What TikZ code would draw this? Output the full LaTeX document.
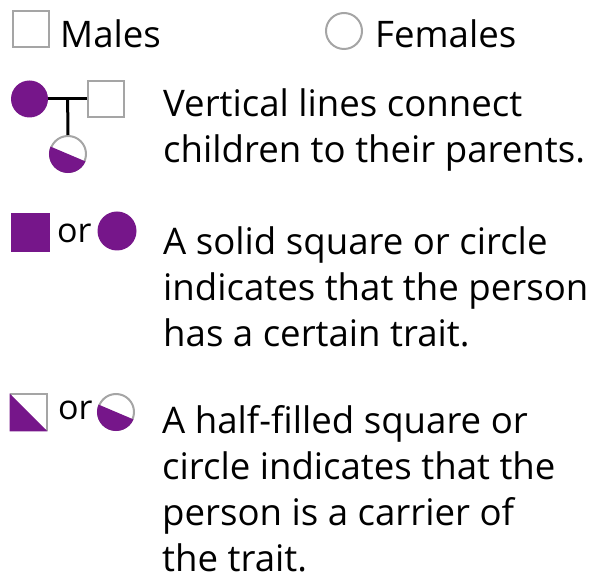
\documentclass[tikz,border=0pt]{standalone}
\usepackage{fontspec}
\setmainfont{Open Sans}
\usepackage{xcolor}

\definecolor{traitpurple}{RGB}{118,22,138}
\definecolor{outlinegray}{RGB}{165,165,165}

\tikzset{
  male/.style={draw=outlinegray, line width=2pt, rectangle, minimum size=36pt, inner sep=0pt},
  female/.style={draw=outlinegray, line width=2pt, circle, minimum size=36pt, inner sep=0pt},
  affected/.style={fill=traitpurple, inner sep=0pt},
  pedline/.style={line width=3pt, black},
  legendtext/.style={anchor=base west, align=left, inner sep=0pt, font=\fontsize{36.6}{46}\selectfont},
}

\begin{document}
\begin{tikzpicture}[x=1pt, y=1pt]
        \useasboundingbox (0,0) rectangle (592,576);

        % males / females
        \node (male) at (31, 547) [male] {};
        \node (malestxt) at (60, 528) [legendtext] {Males};
        \node (female) at (344, 545) [female] {};
        \node (femalestxt) at (375, 528) [legendtext] {Females};

        % parents and child
        \node (mother) at (29.5, 477) [affected, circle, minimum size=37pt] {};
        \node (father) at (106, 477) [male] {};
        \node (child) at (68, 422) [female] {};
        \fill[traitpurple] (child.157) arc[start angle=157, end angle=337, radius=19pt] -- cycle;
        \draw[pedline] (mother.east) -- (father.west) coordinate[pos=0.5] (mating);
        \draw[pedline] (mating) -- (child.north);
        \node (parentstxt) at (163, 413) [legendtext] {Vertical lines connect\\children to their parents.};

        % trait
        \node (solidbox) at (30, 343.5) [affected, rectangle, minimum size=39pt] {};
        \node (orsolid) at (57, 333) [legendtext, font=\fontsize{34}{40}\selectfont] {or};
        \node (soliddot) at (117, 345) [affected, circle, minimum size=39pt] {};
        \node (traittxt) at (163, 229) [legendtext] {A solid square or circle\\indicates that the person\\has a certain trait.};

        % carrier
        \node (halfbox) at (28.5, 163.5) [male] {};
        \fill[traitpurple] (halfbox.north west) -- (halfbox.south east) -- (halfbox.south west) -- cycle;
        \node (orhalf) at (58, 156) [legendtext, font=\fontsize{34}{40}\selectfont] {or};
        \node (halfdot) at (116, 164) [female] {};
        \fill[traitpurple] (halfdot.157) arc[start angle=157, end angle=337, radius=19pt] -- cycle;
        \node (carriertxt) at (162, 5) [legendtext] {A half-filled square or\\circle indicates that the\\person is a carrier of\\the trait.};
\end{tikzpicture}
\end{document}
